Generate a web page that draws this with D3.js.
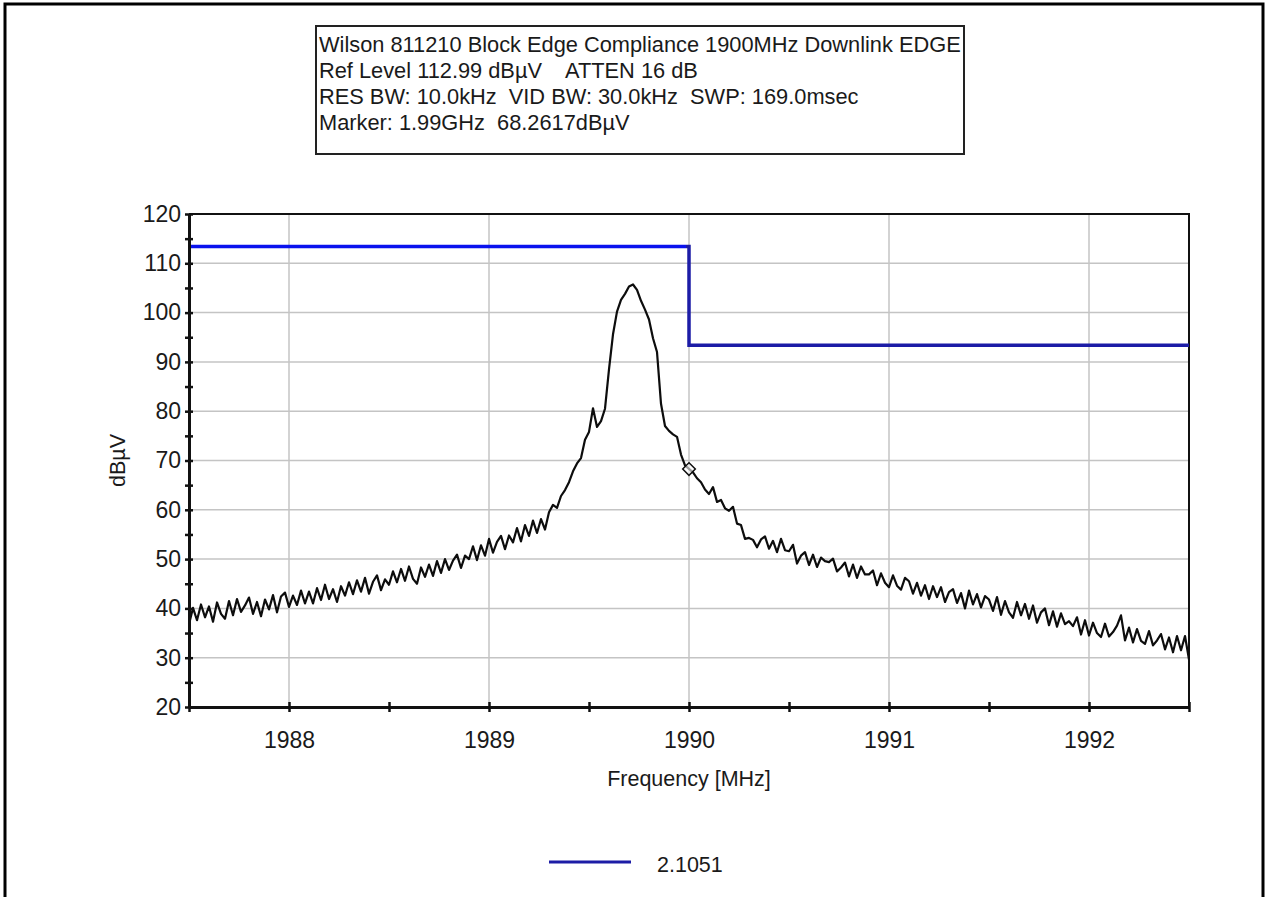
<!DOCTYPE html>
<html>
<head>
<meta charset="utf-8">
<script src="https://cdn.jsdelivr.net/npm/d3@7"></script>
<style>
  html, body { margin: 0; padding: 0; background: #fff; }
  svg { display: block; }
  text { font-family: "Liberation Sans", Arial, sans-serif; fill: #1a1a1a; }
</style>
</head>
<body>
<svg id="chart" width="1270" height="897"></svg>
<script>
// ---------------- data ----------------
const titleLines = [
  "Wilson 811210 Block Edge Compliance 1900MHz Downlink EDGE",
  "Ref Level 112.99 dB\u00b5V    ATTEN 16 dB",
  "RES BW: 10.0kHz  VID BW: 30.0kHz  SWP: 169.0msec",
  "Marker: 1.99GHz  68.2617dB\u00b5V"
];
const xLabel = "Frequency [MHz]";
const yLabel = "dB\u00b5V";
const legendLabel = "2.1051";

const sweepRange = [1987.5, 1992.5];         // MHz, span of the sweep
const yRange = [20, 120];
const xTicks = [1988, 1989, 1990, 1991, 1992];
const xMinorTicks = [1987.5, 1988.5, 1989.5, 1990.5, 1991.5, 1992.5];
const yTicks = [20, 30, 40, 50, 60, 70, 80, 90, 100, 110, 120];
const yMinorTicks = [25, 35, 45, 55, 65, 75, 85, 95, 105, 115];

// measured trace, dBµV, equally spaced sweep points across sweepRange
const traceValues = [
  36.8, 40.1, 37.6, 40.8, 38.2, 40.4, 37.3, 41.2, 38.9, 37.9,
  41.5, 38.6, 41.9, 39.3, 40.6, 42.2, 38.9, 41.3, 38.4, 41.8,
  39.8, 42.7, 39.2, 42.4, 43.2, 40.3, 42.6, 40.7, 43.6, 41.0,
  43.4, 41.0, 44.1, 41.7, 44.8, 41.9, 43.9, 41.3, 44.5, 42.6,
  45.3, 42.9, 45.7, 43.4, 46.2, 43.0, 45.4, 46.7, 43.7, 45.9,
  44.8, 47.5, 45.3, 48.0, 45.6, 48.5, 46.0, 45.0, 48.3, 46.4,
  48.9, 46.6, 49.6, 47.2, 50.0, 47.8, 49.7, 50.9, 48.2, 50.7,
  50.0, 52.6, 49.8, 52.8, 50.7, 54.1, 51.3, 53.5, 54.7, 52.0,
  54.8, 53.4, 56.3, 53.6, 56.9, 54.7, 57.8, 55.3, 58.1, 56.0,
  59.5, 61.0, 60.4, 62.8, 64.0, 65.6, 67.8, 69.4, 70.5, 74.2,
  75.8, 80.6, 76.8, 78.0, 80.5, 88.5, 95.6, 100.2, 102.6, 103.8,
  105.3, 105.7, 104.6, 102.4, 100.6, 98.6, 94.8, 92.0, 81.5, 77.0,
  76.0, 75.3, 74.8, 71.2, 69.0, 68.3, 67.6, 66.4, 65.6, 64.1,
  63.2, 64.6, 61.6, 62.0, 60.3, 59.8, 60.6, 57.2, 56.9, 54.1,
  54.3, 53.9, 52.4, 54.0, 54.6, 52.1, 53.7, 51.4, 54.1, 51.8,
  51.6, 52.9, 49.1, 50.7, 51.4, 48.8, 50.9, 48.4, 50.3, 49.6,
  49.4, 50.1, 47.5, 48.3, 49.3, 46.5, 48.9, 46.2, 48.5, 46.9,
  46.9, 47.7, 44.7, 47.1, 45.2, 44.3, 46.7, 44.6, 43.8, 46.2,
  45.5, 43.0, 45.2, 42.6, 44.7, 41.9, 44.5, 42.3, 44.3, 41.3,
  43.3, 43.9, 41.1, 43.1, 40.0, 43.6, 40.8, 42.9, 40.2, 42.5,
  41.8, 39.5, 42.3, 38.7, 41.5, 39.2, 38.1, 41.3, 38.6, 40.9,
  37.9, 40.6, 37.1, 39.2, 40.0, 36.6, 39.4, 36.3, 39.0, 36.8,
  37.4, 36.4, 38.2, 34.7, 37.6, 34.5, 37.1, 35.0, 34.2, 36.9,
  34.3, 35.2, 36.5, 38.6, 33.5, 36.1, 33.1, 35.8, 33.4, 32.8,
  35.4, 32.5, 33.5, 34.8, 31.7, 34.1, 31.1, 34.4, 31.5, 34.4,
  29.6
];

// limit line (step)
const limitFreqs = [1987.5, 1990.0, 1990.0, 1992.5];
const limitValues = [113.4, 113.4, 93.4, 93.4];

// marker
const markerFreq = 1990.0;
const markerValue = 68.26;

// ---------------- drawing ----------------
const svg = d3.select("#chart");
const font = '"Liberation Sans", Arial, sans-serif';

const plot = { left: 189, right: 1189, top: 214, bottom: 707 };

const x = d3.scaleLinear().domain(sweepRange).range([plot.left, plot.right]);
const y = d3.scaleLinear().domain(yRange).range([plot.bottom, plot.top]);
const idx = d3.scaleLinear().domain([0, traceValues.length - 1]).range(sweepRange);

// outer frame
svg.append("path")
  .attr("d", "M5,897 V4 H1263 V897")
  .attr("fill", "none").attr("stroke", "#000").attr("stroke-width", 3);

// title box
const tb = svg.append("g");
tb.append("rect")
  .attr("x", 316).attr("y", 26).attr("width", 648).attr("height", 128)
  .attr("fill", "#fff").attr("stroke", "#222").attr("stroke-width", 2);
tb.selectAll("text").data(titleLines).join("text")
  .attr("x", 319)
  .attr("y", (d, i) => 52 + i * 26)
  .attr("font-size", 21.8)
  .style("white-space", "pre")
  .text(d => d);

// grid
const g = svg.append("g");
g.selectAll("line.gy").data(yTicks.filter(v => v > yRange[0] && v < yRange[1])).join("line")
  .attr("class", "gy")
  .attr("x1", plot.left).attr("x2", plot.right)
  .attr("y1", d => y(d)).attr("y2", d => y(d))
  .attr("stroke", "#c4c4c4").attr("stroke-width", 1.5);
g.selectAll("line.gx").data(xTicks).join("line")
  .attr("class", "gx")
  .attr("x1", d => x(d)).attr("x2", d => x(d))
  .attr("y1", plot.top).attr("y2", plot.bottom)
  .attr("stroke", "#c4c4c4").attr("stroke-width", 1.5);

// top & right frame of plot
svg.append("path")
  .attr("d", `M${plot.left},${plot.top} H${plot.right} V${plot.bottom}`)
  .attr("fill", "none").attr("stroke", "#111").attr("stroke-width", 2);

// limit line
const defs = svg.append("defs");
const grad = defs.append("linearGradient").attr("id", "limGrad")
  .attr("gradientUnits", "userSpaceOnUse")
  .attr("x1", plot.left).attr("x2", plot.right).attr("y1", 0).attr("y2", 0);
const split = (x(1990) - 3 - plot.left) / (plot.right - plot.left);
grad.append("stop").attr("offset", 0).attr("stop-color", "#0a12ee");
grad.append("stop").attr("offset", split).attr("stop-color", "#0a12ee");
grad.append("stop").attr("offset", split).attr("stop-color", "#1c1ca6");
grad.append("stop").attr("offset", 1).attr("stop-color", "#1c1ca6");

const limitLine = d3.line().x(d => x(d[0])).y(d => y(d[1]));
svg.append("path")
  .datum(limitFreqs.map((f, i) => [f, limitValues[i]]))
  .attr("d", limitLine)
  .attr("fill", "none").attr("stroke", "url(#limGrad)").attr("stroke-width", 3.5);

// trace
const traceLine = d3.line().x((d, i) => x(idx(i))).y(d => y(d));
svg.append("path")
  .datum(traceValues)
  .attr("d", traceLine)
  .attr("fill", "none").attr("stroke", "#0d0d0d").attr("stroke-width", 2.2)
  .attr("stroke-linejoin", "round");

// marker (diamond)
svg.append("path")
  .attr("d", d3.symbol().type(d3.symbolSquare).size(80)())
  .attr("transform", `translate(${x(markerFreq)},${y(markerValue)}) rotate(45)`)
  .attr("fill", "#fff").attr("fill-opacity", 0.6)
  .attr("stroke", "#111").attr("stroke-width", 1.5);

// axes
function styleAxis(sel, crossAttr, crossVal) {
  sel.select(".domain").attr("stroke", "#111").attr("stroke-width", 3);
  sel.selectAll(".tick line").attr("stroke", "#111").attr("stroke-width", 2.5).attr(crossAttr, crossVal);
  sel.selectAll(".tick text").attr("font-family", font).attr("font-size", 23).attr("fill", "#1a1a1a");
}

const yAxis = svg.append("g").attr("transform", `translate(${plot.left},0)`)
  .call(d3.axisLeft(y).tickValues(yTicks).tickSizeInner(4).tickSizeOuter(0).tickPadding(4).tickFormat(d3.format("d")));
styleAxis(yAxis, "x1", 4);
const yMinor = svg.append("g").attr("transform", `translate(${plot.left},0)`)
  .call(d3.axisLeft(y).tickValues(yMinorTicks).tickSizeInner(4).tickSizeOuter(0).tickFormat(""));
yMinor.select(".domain").remove();
styleAxis(yMinor, "x1", 4);

const xAxis = svg.append("g").attr("transform", `translate(0,${plot.bottom})`)
  .call(d3.axisBottom(x).tickValues(xTicks).tickSizeInner(5).tickSizeOuter(0).tickPadding(20).tickFormat(d3.format("d")));
styleAxis(xAxis, "y1", -5);
const xMinor = svg.append("g").attr("transform", `translate(0,${plot.bottom})`)
  .call(d3.axisBottom(x).tickValues(xMinorTicks).tickSizeInner(5).tickSizeOuter(0).tickFormat(""));
xMinor.select(".domain").remove();
styleAxis(xMinor, "y1", -5);

// axis titles
svg.append("text")
  .attr("x", (plot.left + plot.right) / 2).attr("y", 786)
  .attr("text-anchor", "middle").attr("font-size", 21.5)
  .text(xLabel);
svg.append("text")
  .attr("transform", `translate(118,${(plot.top + plot.bottom) / 2}) rotate(-90)`)
  .attr("text-anchor", "middle").attr("dominant-baseline", "central").attr("font-size", 21.5)
  .text(yLabel);

// legend
const lg = svg.append("g");
lg.append("line")
  .attr("x1", 549).attr("x2", 631).attr("y1", 862).attr("y2", 862)
  .attr("stroke", "#1c1ca6").attr("stroke-width", 3);
lg.append("text")
  .attr("x", 657).attr("y", 872).attr("font-size", 21.5)
  .text(legendLabel);
</script>
</body>
</html>
